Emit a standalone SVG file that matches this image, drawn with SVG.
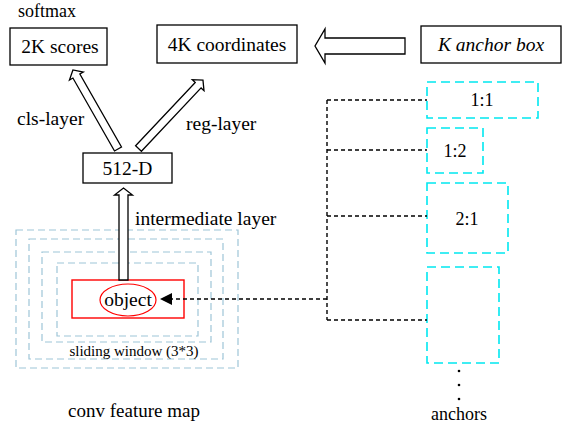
<svg xmlns="http://www.w3.org/2000/svg" width="567" height="426" viewBox="0 0 567 426">
<style>
.t{font-size:19.5px}
.box{fill:#fff;stroke:#000;stroke-width:1.3}
.harrow{fill:#fff;stroke:#000;stroke-width:1.3;stroke-linejoin:miter}
.win{fill:none;stroke:#9ec5d8;stroke-width:1.2;stroke-dasharray:7,4}
.anc{fill:none;stroke:#00e8f0;stroke-width:1.6;stroke-dasharray:9,5}
.dl{fill:none;stroke:#000;stroke-width:1.4;stroke-dasharray:4,3}
</style>
<defs>
<marker id="ah" viewBox="0 0 10 10" refX="10" refY="5" markerWidth="12" markerHeight="12" markerUnits="userSpaceOnUse" orient="auto">
<path d="M0,0 L10,5 L0,10 Z" fill="#000"/>
</marker>
</defs>
<rect width="567" height="426" fill="#fff"/>
<g font-family="'Liberation Serif', 'Times New Roman', serif" fill="#000">

<g id="feature-map">
<rect class="win" x="16" y="230" width="222" height="138"/>
<rect class="win" x="29" y="239" width="194" height="120"/>
<rect class="win" x="42" y="252" width="169" height="90"/>
<rect class="win" x="57" y="263" width="141" height="73"/>
<text x="134" y="356" font-size="15" text-anchor="middle">sliding window (3*3)</text>
<text x="134" y="417" font-size="19" text-anchor="middle">conv feature map</text>
</g>

<g id="object">
<rect x="72" y="280" width="112" height="38" fill="none" stroke="#ff0000" stroke-width="1.4"/>
<ellipse cx="128" cy="300" rx="28" ry="16" fill="none" stroke="#ff0000" stroke-width="1.2"/>
<text x="128" y="306" class="t" text-anchor="middle">object</text>
</g>

<g id="softmax-label"><text x="18" y="17" font-size="18">softmax</text></g>
<g id="scores"><rect class="box" x="10" y="28" width="97" height="37"/><text x="60" y="53" class="t" text-anchor="middle">2K scores</text></g>
<g id="coordinates"><rect class="box" x="157" y="25" width="140" height="38"/><text x="227" y="51" class="t" text-anchor="middle">4K coordinates</text></g>
<g id="anchor-box"><rect class="box" x="421" y="26" width="140" height="37"/><text x="491" y="51" class="t" text-anchor="middle" font-style="italic">K anchor box</text></g>
<g id="d512"><rect class="box" x="83" y="153" width="89" height="30"/><text x="127.5" y="175" class="t" text-anchor="middle">512-D</text></g>

<g id="anchor-1-1"><rect class="anc" x="427" y="82" width="111" height="36"/><text x="482" y="106" font-size="18" text-anchor="middle">1:1</text></g>
<g id="anchor-1-2"><rect class="anc" x="427" y="128" width="56" height="45"/><text x="455" y="157" font-size="18" text-anchor="middle">1:2</text></g>
<g id="anchor-2-1"><rect class="anc" x="427" y="183" width="81" height="70"/><text x="467" y="225" font-size="18" text-anchor="middle">2:1</text></g>
<g id="anchor-4"><rect class="anc" x="427" y="267" width="72" height="96"/></g>
<g id="anchors-label">
<circle cx="459" cy="371" r="1.3" fill="#000"/>
<circle cx="459" cy="385" r="1.3" fill="#000"/>
<circle cx="459" cy="399" r="1.3" fill="#000"/>
<text x="459" y="420" font-size="18" text-anchor="middle">anchors</text>
</g>

<g id="labels">
<text x="17" y="125" class="t">cls-layer</text>
<text x="186" y="130" class="t">reg-layer</text>
<text x="135" y="225" class="t">intermediate layer</text>
</g>

<g id="connectors">
<path class="harrow" transform="translate(118,149) rotate(-119.7)" d="M0,-4 L84,-4 L84,-8 L91,0 L84,8 L84,4 L0,4 Z"/>
<path class="harrow" transform="translate(138.5,148.5) rotate(-46.7)" d="M0,-4 L87,-4 L87,-8 L94,0 L87,8 L87,4 L0,4 Z"/>
<path class="harrow" transform="translate(123.5,280) rotate(-90)" d="M0,-4.5 L85,-4.5 L85,-9 L92,0 L85,9 L85,4.5 L0,4.5 Z"/>
<path class="harrow" transform="translate(405,46) rotate(180)" d="M0,-8 L80,-8 L80,-17 L90,0 L80,17 L80,8 L0,8 Z"/>
<path class="dl" d="M327,100 V320"/>
<path class="dl" d="M327,100 H427 M327,150 H427 M327,216 H427 M327,320 H427"/>
<path class="dl" d="M327,299 H160" marker-end="url(#ah)"/>
</g>
</g>
</svg>
